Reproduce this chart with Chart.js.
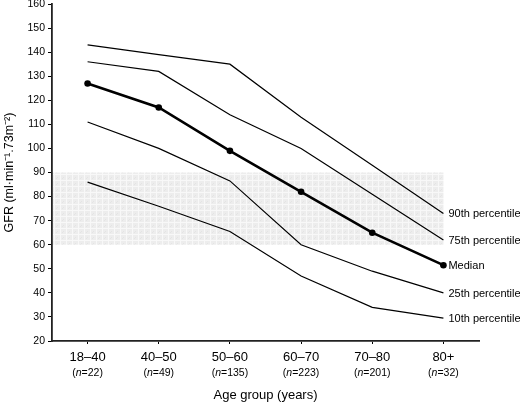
<!DOCTYPE html>
<html>
<head>
<meta charset="utf-8">
<script src="https://cdn.jsdelivr.net/npm/chart.js@4/dist/chart.umd.min.js"></script>
<style>
  html, body { margin: 0; padding: 0; background: #fff; }
  #wrap { width: 520px; height: 403px; }
</style>
</head>
<body>
<div id="wrap"><canvas id="gfrChart" width="520" height="403"></canvas></div>
<script>
const ageGroups = ['18\u201340', '40\u201350', '50\u201360', '60\u201370', '70\u201380', '80+'];
const sampleSizes = [22, 49, 135, 223, 201, 32];
const seriesNames = ['90th percentile', '75th percentile', 'Median', '25th percentile', '10th percentile'];
const p90 = [143, 139, 135, 113, 93, 73];
const p75 = [136, 132, 114, 100, 81, 62];
const median = [127, 117, 99, 82, 65, 51.5];
const p25 = [111, 100, 86.5, 60, 49, 40];
const p10 = [86, 76, 65.5, 47, 34, 29.5];
const yTicks = [20, 30, 40, 50, 60, 70, 80, 90, 100, 110, 120, 130, 140, 150, 160];
const normalRange = [60, 90];

const FONT = '"Liberation Sans", Arial, Helvetica, sans-serif';

document.addEventListener("DOMContentLoaded", function () {
    const ctx = document.getElementById('gfrChart').getContext('2d');

    // light grey speckled grid used for the normal range band
    const tile = document.createElement('canvas');
    tile.width = 6; tile.height = 6;
    const t = tile.getContext('2d');
    t.fillStyle = '#ededed';
    t.fillRect(0, 0, 6, 6);
    t.fillStyle = '#f8f8f8';
    t.fillRect(0, 0, 6, 1);
    t.fillRect(0, 0, 1, 6);
    t.fillStyle = '#e4e4e4';
    t.fillRect(3, 3, 1, 1);
    t.fillRect(2, 4, 1, 1);
    const bandPattern = ctx.createPattern(tile, 'repeat');

    const bandPlugin = {
        id: 'band',
        beforeDatasetsDraw(chart) {
            const x = chart.scales.x, y = chart.scales.y, c = chart.ctx;
            const left = chart.chartArea.left + 1;
            const right = x.getPixelForValue(ageGroups.length - 1);
            const top = y.getPixelForValue(normalRange[1]);
            const bottom = y.getPixelForValue(normalRange[0]);
            c.save();
            c.fillStyle = bandPattern;
            c.fillRect(left, top, right - left, bottom - top);
            c.restore();
        }
    };

    const labelPlugin = {
        id: 'endLabels',
        afterDatasetsDraw(chart) {
            const c = chart.ctx;
            c.save();
            c.fillStyle = '#000';
            c.font = '11px ' + FONT;
            c.textBaseline = 'middle';
            chart.data.datasets.forEach(function (ds, i) {
                const pts = chart.getDatasetMeta(i).data;
                const last = pts[pts.length - 1];
                c.fillText(seriesNames[i], last.x + 5, last.y + 1);
            });
            // second line of the x labels: (n=..)
            const x = chart.scales.x;
            const yPos = chart.chartArea.bottom + 32;
            sampleSizes.forEach(function (n, i) {
                const cx = x.getPixelForValue(i);
                const a = '(', b = 'n', d = '=' + n + ')';
                c.font = '10.5px ' + FONT;
                const wa = c.measureText(a).width, wd = c.measureText(d).width;
                c.font = 'italic 10.5px ' + FONT;
                const wb = c.measureText(b).width;
                let sx = cx - (wa + wb + wd) / 2;
                c.textAlign = 'left';
                c.font = '10.5px ' + FONT;
                c.fillText(a, sx, yPos);
                c.font = 'italic 10.5px ' + FONT;
                c.fillText(b, sx + wa, yPos);
                c.font = '10.5px ' + FONT;
                c.fillText(d, sx + wa + wb, yPos);
            });
            c.restore();
        }
    };

    function thinLine(name, data) {
        return {
            label: name,
            data: data,
            borderColor: '#000',
            borderWidth: 1.2,
            pointRadius: 0,
            tension: 0
        };
    }

    new Chart(ctx, {
        type: 'line',
        data: {
            labels: ageGroups,
            datasets: [
                thinLine(seriesNames[0], p90),
                thinLine(seriesNames[1], p75),
                {
                    label: seriesNames[2],
                    data: median,
                    borderColor: '#000',
                    backgroundColor: '#000',
                    borderWidth: 2.6,
                    pointRadius: 3.3,
                    pointBorderWidth: 0,
                    pointHoverRadius: 3.3,
                    tension: 0
                },
                thinLine(seriesNames[3], p25),
                thinLine(seriesNames[4], p10)
            ]
        },
        options: {
            responsive: false,
            animation: false,
            layout: { padding: { top: 4, right: 41, left: 0, bottom: 0 } },
            plugins: {
                legend: { display: false },
                tooltip: { enabled: false }
            },
            scales: {
                x: {
                    offset: true,
                    grid: { drawOnChartArea: false, drawTicks: true, tickLength: 3, color: '#000', offset: false },
                    border: { color: '#222', width: 1.8 },
                    ticks: { color: '#000', font: { family: FONT, size: 13 }, padding: 6, autoSkip: false, maxRotation: 0 },
                    title: {
                        display: true,
                        text: 'Age group (years)',
                        color: '#000',
                        font: { family: FONT, size: 13 },
                        padding: { top: 0, bottom: 0 }
                    },
                    afterFit(scale) { scale.height = 62; }
                },
                y: {
                    min: 20,
                    max: 160,
                    afterBuildTicks(scale) { scale.ticks = yTicks.map(function (v) { return { value: v }; }); },
                    grid: { drawOnChartArea: false, drawTicks: true, tickLength: 4, color: '#000' },
                    border: { color: '#222', width: 1.8 },
                    ticks: { color: '#000', font: { family: FONT, size: 10.5 }, padding: 3 },
                    title: {
                        display: true,
                        text: 'GFR (ml\u00b7min\u207b\u00b9.73m\u207b\u00b2)',
                        color: '#000',
                        font: { family: FONT, size: 12.5 },
                        padding: { top: 2, bottom: 0 }
                    },
                    afterFit(scale) { scale.width = 52; scale.paddingTop = 0; }
                }
            }
        },
        plugins: [bandPlugin, labelPlugin]
    });
});
</script>
</body>
</html>
